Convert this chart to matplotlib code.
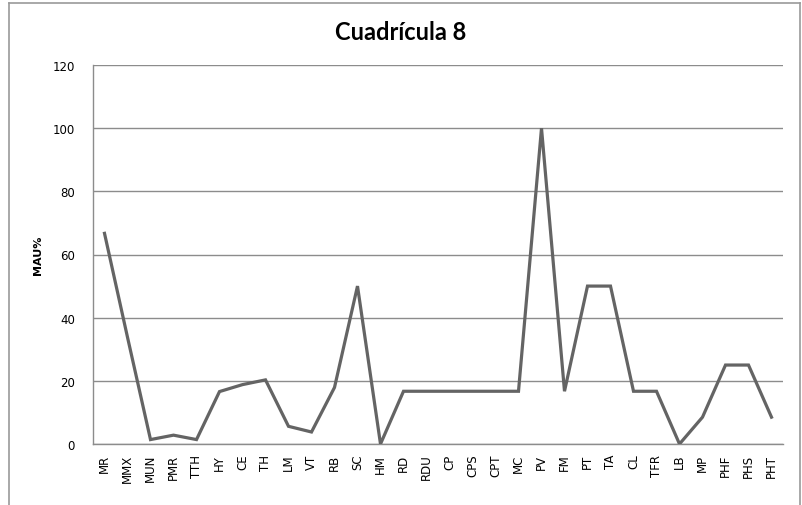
import matplotlib.pyplot as plt
from matplotlib.lines import Line2D
import numpy as np

# MAU% per anatomical element, grid 8
categories = ["MR", "MMX", "MUN", "PMR", "TTH", "HY", "CE", "TH", "LM", "VT",
              "RB", "SC", "HM", "RD", "RDU", "CP", "CPS", "CPT", "MC", "PV",
              "FM", "PT", "TA", "CL", "TFR", "LB", "MP", "PHF", "PHS", "PHT"]
mau = [66.7, 33.8, 1.4, 2.8, 1.4, 16.6, 18.8, 20.3, 5.6, 3.8,
       17.9, 50.0, 0.0, 16.7, 16.7, 16.7, 16.7, 16.7, 16.7, 100.0,
       16.7, 50.0, 50.0, 16.7, 16.7, 0.0, 8.5, 25.0, 25.0, 8.5]
yticks = [0, 20, 40, 60, 80, 100, 120]

W, H = 803, 506
fig = plt.figure(figsize=(W / 100, H / 100), dpi=100)
ax = fig.add_axes([93 / W, (H - 445) / H, 690 / W, 379 / H])

x = np.arange(len(categories))
ax.plot(x, mau, color="#646464", linewidth=2.3, solid_joinstyle="miter", zorder=3)

ax.set_xlim(-0.5, len(categories) - 0.5)
ax.set_ylim(0, 120)
ax.set_yticks(yticks)
ax.set_xticks(x)
ax.set_xticklabels(categories, rotation=90, fontsize=8.5, family="DejaVu Sans")
ax.tick_params(axis="both", length=0)
ax.tick_params(axis="x", pad=7)
ax.tick_params(axis="y", pad=13, labelsize=8.5)
for lab in ax.get_yticklabels():
    lab.set_family("DejaVu Sans")

ax.grid(axis="y", color="#8c8c8c", linewidth=1.0)
ax.set_axisbelow(True)
for side in ("top", "right"):
    ax.spines[side].set_visible(False)
for side in ("left", "bottom"):
    ax.spines[side].set_color("#8c8c8c")
    ax.spines[side].set_linewidth(1.0)

ax.set_ylabel("MAU%", fontsize=8, fontweight="bold")
ax.yaxis.set_label_coords(-0.072, 0.5)

fig.text(401 / W, 1 - 32 / H, "Cuadrícula 8", ha="center", va="center",
         fontsize=17, fontweight="bold", family="Lato")

# chart border (bottom edge runs off the image)
bx0, bx1, by0 = 9.5 / W, 800 / W, 1 - 3.5 / H
for xs, ys in [([bx0, bx0], [0, by0]), ([bx0, bx1], [by0, by0]), ([bx1, bx1], [by0, 0])]:
    fig.add_artist(Line2D(xs, ys, color="#9a9a9a", linewidth=1.2))

fig.savefig("out.png", dpi=100)
